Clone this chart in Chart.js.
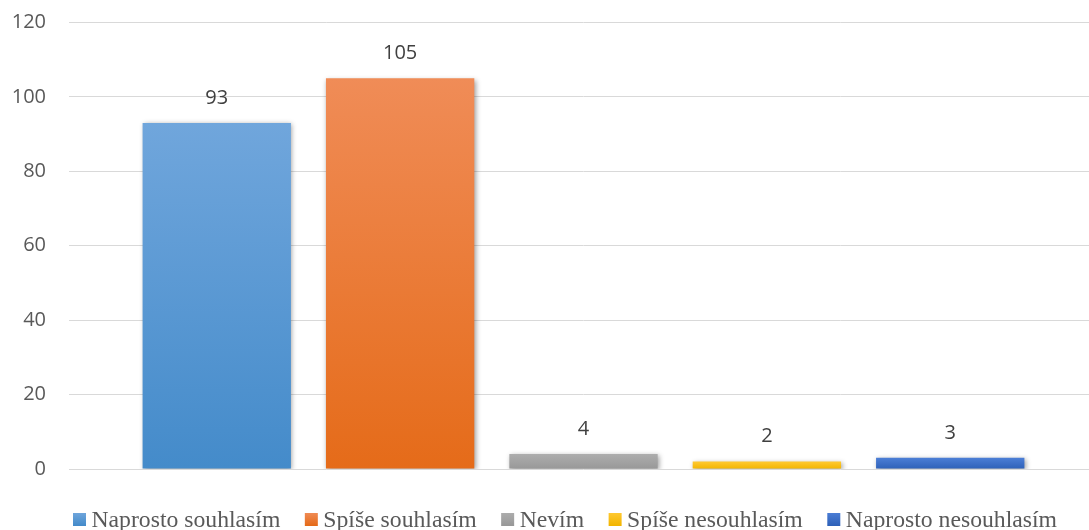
<!DOCTYPE html>
<html lang="cs">
<head>
<meta charset="utf-8">
<title>Odpovědi</title>
<script src="https://cdn.jsdelivr.net/npm/chart.js@4/dist/chart.umd.min.js"></script>
<style>
  html, body { margin: 0; padding: 0; background: #ffffff; overflow: hidden; }
  #wrap { width: 1089px; height: 530px; overflow: hidden; }
  canvas { display: block; }
</style>
</head>
<body>
<div id="wrap"><canvas id="chart" width="1098" height="530"></canvas></div>
<script>
// Answer categories (one dataset per answer) and the counts
const categories = [''];
const seriesNames = ['Naprosto souhlasím', 'Spíše souhlasím', 'Nevím', 'Spíše nesouhlasím', 'Naprosto nesouhlasím'];
const seriesValues = [93, 105, 4, 2, 3];
const yTicks = [0, 20, 40, 60, 80, 100, 120];

// Top / bottom colours of each bar's vertical gradient
const topColors = ['#70a6dc', '#f08c57', '#adadad', '#ffc933', '#4c7ed6'];
const bottomColors = ['#448bca', '#e56b19', '#989898', '#f2b500', '#2e61b8'];

function barGradient(i) {
  return function (ctx) {
    const chart = ctx.chart;
    const y = chart.scales.y;
    if (!chart.chartArea || !y || ctx.raw == null) return bottomColors[i];
    const top = y.getPixelForValue(ctx.raw);
    const base = y.getPixelForValue(0);
    const g = chart.ctx.createLinearGradient(0, top, 0, base);
    g.addColorStop(0, topColors[i]);
    g.addColorStop(1, bottomColors[i]);
    return g;
  };
}

const datasets = seriesNames.map((name, i) => ({
  label: name,
  data: [seriesValues[i]],
  backgroundColor: barGradient(i),
  legendColor: [topColors[i], bottomColors[i]],
  borderWidth: 0,
  categoryPercentage: 0.891,
  barPercentage: 0.809
}));

// Soft shadow under bars, value labels above them
const barDecor = {
  id: 'barDecor',
  beforeDatasetsDraw(chart) {
    const c = chart.ctx;
    c.save();
    c.shadowColor = 'rgba(0,0,0,0.38)';
    c.shadowBlur = 5;
    c.shadowOffsetX = 1.5;
    c.shadowOffsetY = 1.5;
  },
  afterDatasetsDraw(chart) {
    const c = chart.ctx;
    c.restore();
    c.save();
    c.font = '20px "Open Sans"';
    c.fillStyle = '#404040';
    c.textAlign = 'center';
    c.textBaseline = 'middle';
    chart.data.datasets.forEach((ds, i) => {
      const meta = chart.getDatasetMeta(i);
      meta.data.forEach((bar, j) => {
        c.fillText(String(ds.data[j]), bar.x, bar.y - 25);
      });
    });
    c.restore();
  }
};

// Legend row below the plot: square swatch followed by the label
const bottomLegend = {
  id: 'bottomLegend',
  afterDraw(chart) {
    const c = chart.ctx;
    const box = 13, textGap = 5.5, itemGap = 24.5;
    c.save();
    c.font = '23.7px "Liberation Serif", "Times New Roman", serif';
    c.textBaseline = 'alphabetic';
    c.textAlign = 'left';
    let x = chart.chartArea.left + 4;
    const baseline = 526.5;
    chart.data.datasets.forEach((ds) => {
      const g = c.createLinearGradient(0, baseline - 14, 0, baseline - 1);
      g.addColorStop(0, ds.legendColor[0]);
      g.addColorStop(1, ds.legendColor[1]);
      c.fillStyle = g;
      c.fillRect(x, baseline - 13.5, box, box);
      x += box + textGap;
      c.fillStyle = '#595959';
      c.fillText(ds.label, x, baseline);
      x += c.measureText(ds.label).width + itemGap;
    });
    c.restore();
  }
};

new Chart(document.getElementById('chart'), {
  type: 'bar',
  data: { labels: categories, datasets: datasets },
  options: {
    responsive: false,
    animation: false,
    devicePixelRatio: 1,
    layout: { padding: { left: 12, top: 22.5, right: 0, bottom: 61 } },
    plugins: {
      legend: { display: false },
      tooltip: { enabled: false }
    },
    scales: {
      x: { display: false },
      y: {
        min: yTicks[0],
        max: yTicks[yTicks.length - 1],
        afterBuildTicks(scale) { scale.ticks = yTicks.map(v => ({ value: v })); },
        afterFit(scale) {
          scale.width = 57;
          scale.paddingTop = 0;
          scale.paddingBottom = 0;
        },
        border: { display: false },
        grid: { color: '#d9d9d9', lineWidth: 1, drawTicks: false },
        ticks: {
          padding: 23,
          color: '#595959',
          font: { family: '"Open Sans"', size: 20 }
        }
      }
    }
  },
  plugins: [barDecor, bottomLegend]
});
</script>
</body>
</html>
